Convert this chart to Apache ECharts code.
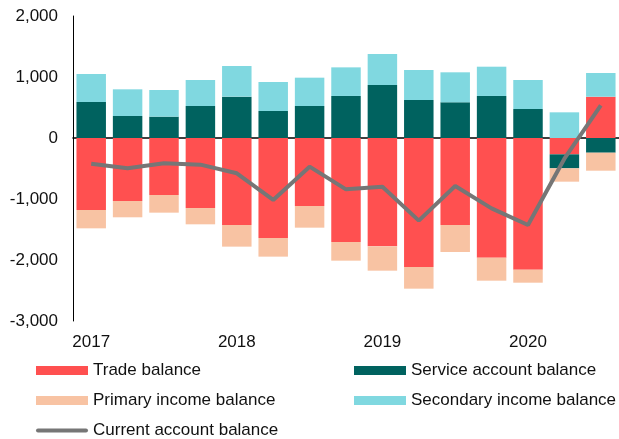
<!DOCTYPE html>
<html>
<head>
    <meta charset="utf-8" />
    <title></title>
    <style>
        html, body { margin: 0; padding: 0; background: #fff; }
        #chart { width: 619px; height: 439px; }
    </style>
</head>
<body>
    <div id="chart"></div>
    <script src="https://cdn.jsdelivr.net/npm/echarts@6/dist/echarts.min.js"></script>
    <script>
        // quarters 2017Q1 .. 2020Q3
        var quarters = ['2017', '2017Q2', '2017Q3', '2017Q4', '2018', '2018Q2', '2018Q3', '2018Q4',
            '2019', '2019Q2', '2019Q3', '2019Q4', '2020', '2020Q2', '2020Q3'];
        var trade = [-1180, -1033, -934, -1148, -1426, -1639, -1115, -1705, -1776, -2115, -1426, -1962, -2159, -268, 677];
        var service = [590, 361, 350, 525, 678, 443, 525, 689, 869, 623, 585, 689, 475, -229, -241];
        var primary = [-301, -267, -290, -267, -355, -306, -355, -306, -399, -355, -443, -377, -213, -219, -295];
        var secondary = [459, 437, 437, 426, 502, 475, 464, 469, 508, 492, 492, 480, 476, 421, 389];
        var current = [-421, -497, -415, -437, -579, -1016, -470, -842, -798, -1355, -787, -1153, -1426, -340, 536];

        var font = 'Liberation Sans, Arial, sans-serif';
        var chart = echarts.init(document.getElementById('chart'));

        function bar(name, data, color) {
            return {
                name: name,
                type: 'bar',
                stack: 'ca',
                data: data,
                barCategoryGap: '19%',
                itemStyle: { color: color },
                emphasis: { disabled: true }
            };
        }

        var legendBase = {
            orient: 'vertical',
            top: 357,
            height: 120,
            itemWidth: 52,
            itemHeight: 9,
            itemGap: 13,
            selectedMode: false,
            textStyle: { fontSize: 17, color: '#111', fontFamily: font }
        };

        var option = {
            animation: false,
            textStyle: { fontFamily: font },
            grid: { left: 73, right: -3, top: 16, bottom: 118 },
            legend: [
                Object.assign({}, legendBase, {
                    left: 31,
                    data: [{ name: 'Trade balance', icon: 'rect' },
                        { name: 'Primary income balance', icon: 'rect' },
                        { name: 'Current account balance', icon: 'path://M2,0 L50,0 A2,2 0 0 1 50,4 L2,4 A2,2 0 0 1 2,0 Z' }]
                }),
                Object.assign({}, legendBase, {
                    left: 349,
                    data: [{ name: 'Service account balance', icon: 'rect' },
                        { name: 'Secondary income balance', icon: 'rect' }]
                })
            ],
            xAxis: [{
                type: 'category',
                data: quarters,
                axisLine: { onZero: true, lineStyle: { color: '#000', width: 1.5 } },
                axisTick: { show: false },
                axisLabel: { show: false }
            }, {
                type: 'category',
                position: 'bottom',
                data: quarters,
                axisLine: { show: false, onZero: false },
                axisTick: { show: false },
                splitLine: { show: false },
                axisLabel: {
                    interval: 3,
                    margin: 13,
                    fontSize: 17,
                    color: '#111',
                    fontFamily: font
                }
            }],
            yAxis: {
                type: 'value',
                min: -3000,
                max: 2000,
                interval: 1000,
                axisLine: { show: true, lineStyle: { color: '#000', width: 1 } },
                axisTick: { show: false },
                splitLine: { show: false },
                axisLabel: {
                    margin: 15,
                    fontSize: 17,
                    color: '#111',
                    fontFamily: font,
                    formatter: function (v) {
                        return v.toLocaleString('en-US');
                    }
                }
            },
            series: [
                bar('Trade balance', trade, '#FF5050'),
                bar('Service account balance', service, '#00625F'),
                bar('Primary income balance', primary, '#F8C3A3'),
                bar('Secondary income balance', secondary, '#80D8E0'),
                {
                    name: 'Current account balance',
                    type: 'line',
                    data: current,
                    symbol: 'none',
                    lineStyle: { color: '#767676', width: 4 },
                    itemStyle: { color: '#767676' },
                    emphasis: { disabled: true },
                    z: 5
                }
            ]
        };
        chart.setOption(option);
    </script>
</body>
</html>
